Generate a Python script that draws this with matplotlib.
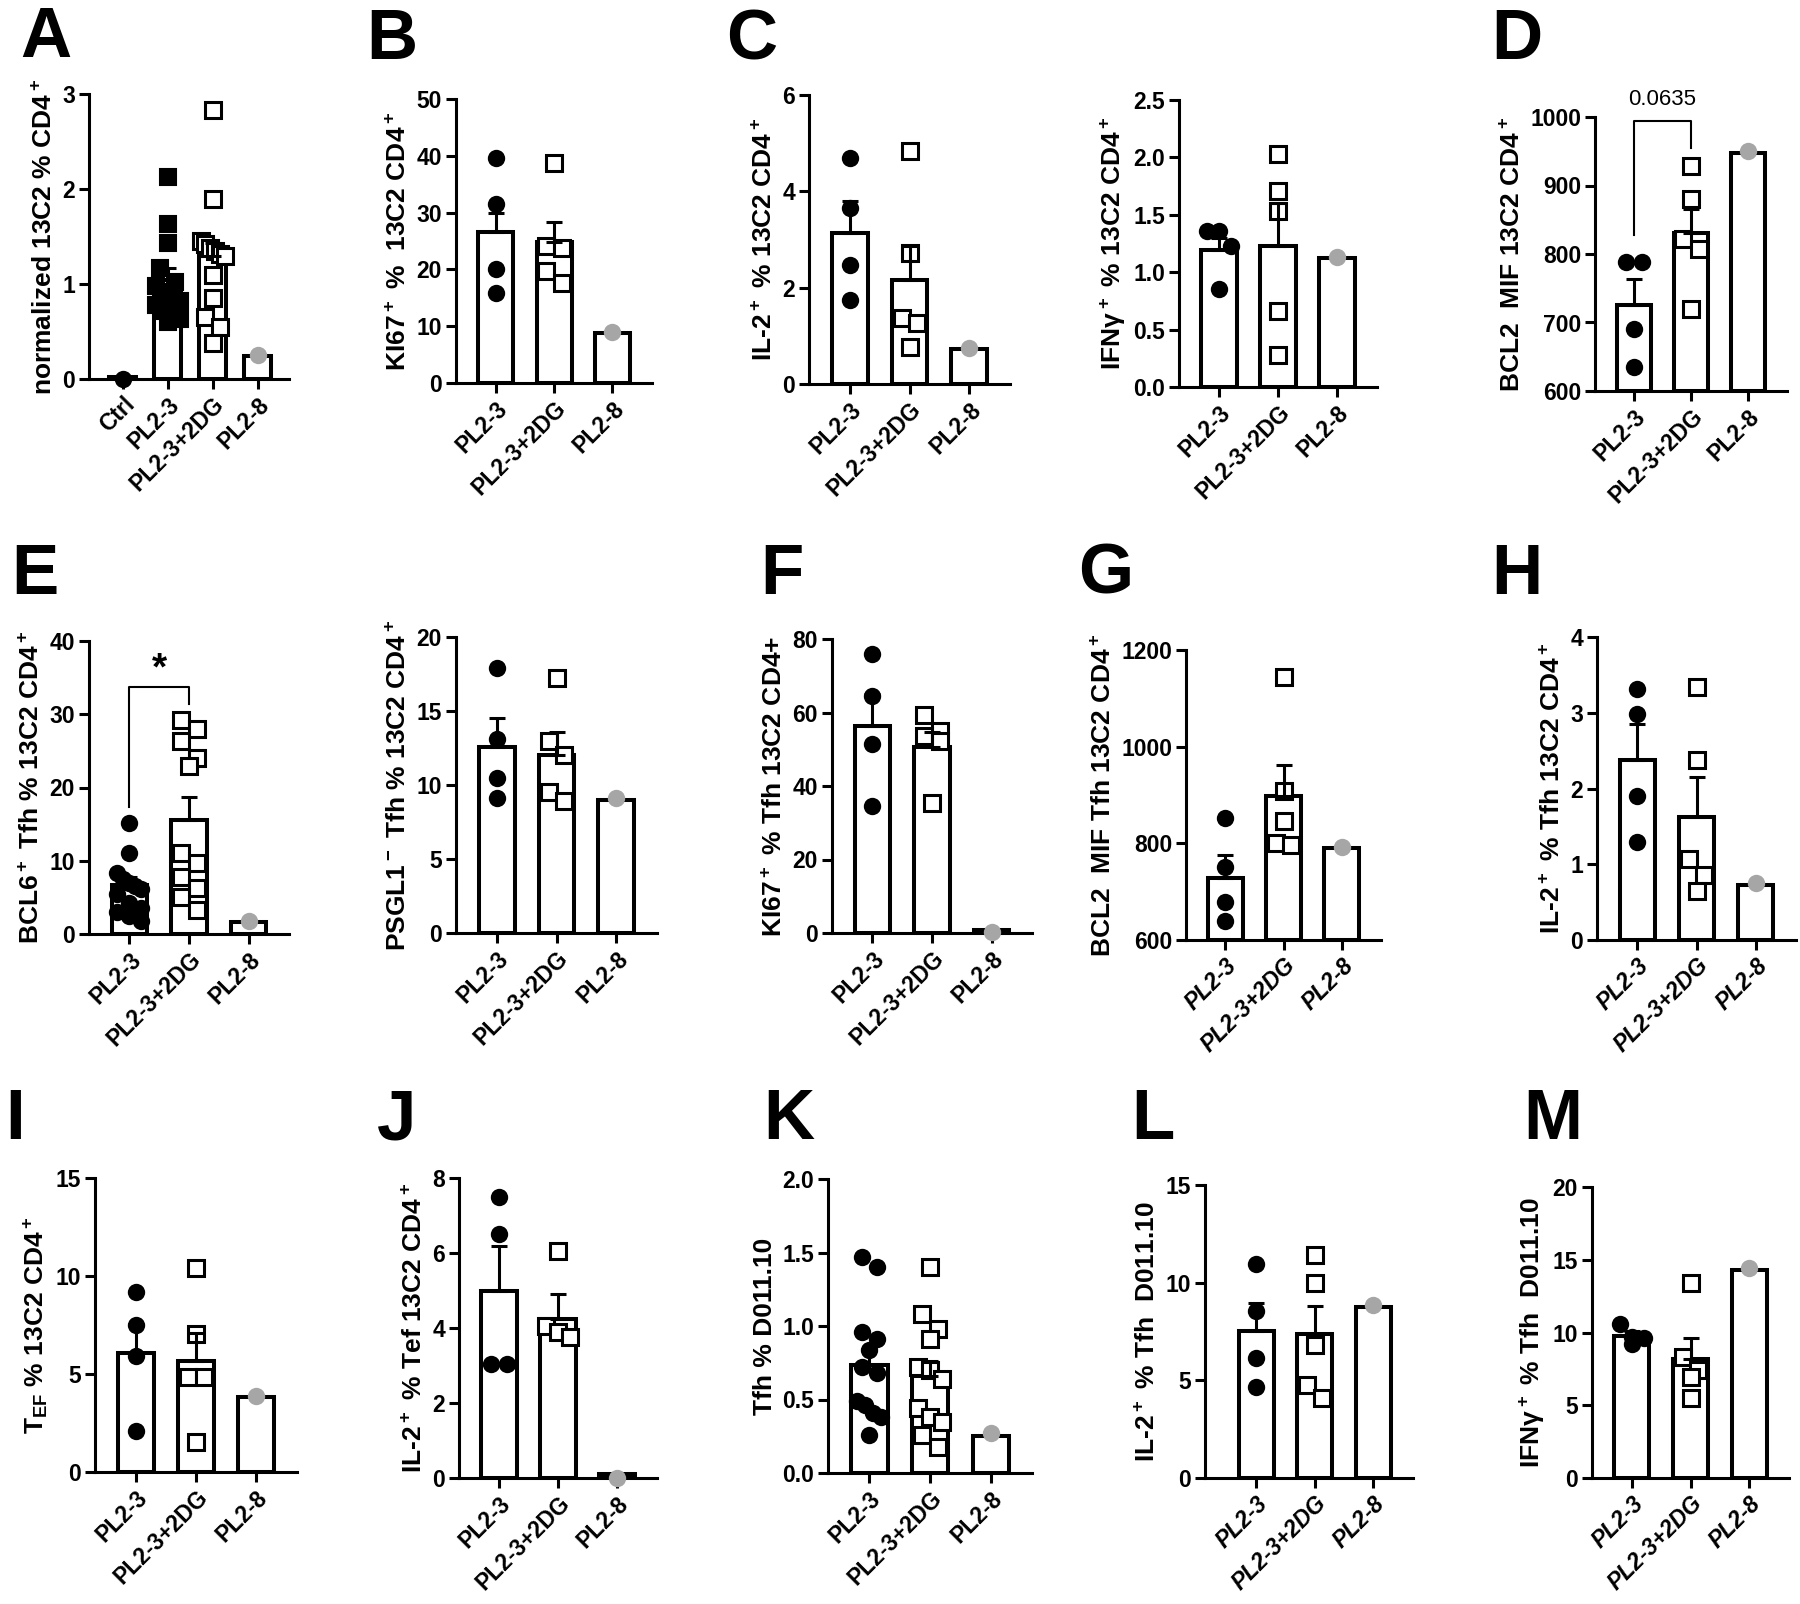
import matplotlib

matplotlib.use("Agg")

import matplotlib.pyplot as plt
import numpy as np

plt.rcParams["font.family"] = ["Liberation Sans", "DejaVu Sans"]
plt.rcParams["font.weight"] = "bold"
plt.rcParams["mathtext.default"] = "regular"

W, H = 1800, 1604

G3 = ["PL2-3", "PL2-3+2DG", "PL2-8"]
G4 = ["Ctrl", "PL2-3", "PL2-3+2DG", "PL2-8"]

# ---- data ----
A_ctrl = [0.0]
A_pl23 = [2.13, 1.63, 1.43, 1.17, 1.02, 0.98, 0.92, 0.88, 0.82, 0.78, 0.72, 0.68, 0.63, 0.60]
A_2dg = [2.83, 1.90, 1.45, 1.42, 1.38, 1.35, 1.32, 1.30, 1.10, 0.85, 0.65, 0.55, 0.38]
A_pl28 = [0.25]
A_mean = [0.02, 1.04, 1.30, 0.24]
A_sem = [0.0, 0.13, 0.13, 0.0]

B_pl23 = [39.7, 31.5, 20.0, 15.8]
B_2dg = [38.8, 24.2, 23.8, 19.8, 17.6]
B_pl28 = [9.0]
B_mean = [26.5, 24.8, 8.8]
B_sem = [3.4, 3.5, 0.0]

C1_pl23 = [4.70, 3.65, 2.48, 1.75]
C1_2dg = [4.83, 2.72, 1.38, 1.27, 0.76]
C1_pl28 = [0.75]
C1_mean = [3.13, 2.15, 0.72]
C1_sem = [0.67, 0.72, 0.0]

C2_pl23 = [1.36, 1.36, 1.23, 0.85]
C2_2dg = [2.03, 1.71, 1.53, 0.66, 0.28]
C2_pl28 = [1.13]
C2_mean = [1.19, 1.23, 1.12]
C2_sem = [0.11, 0.37, 0.0]

D_pl23 = [789, 789, 690, 635]
D_2dg = [929, 880, 822, 807, 719]
D_pl28 = [950]
D_mean = [726, 831, 948]
D_sem = [38, 35, 0]

E1_pl23 = [15.1, 11.0, 8.3, 7.5, 7.0, 6.5, 6.2, 5.5, 4.2, 3.5, 3.0, 2.5, 1.8]
E1_2dg = [29.2, 28.0, 26.3, 24.0, 22.9, 11.0, 9.7, 7.8, 6.3, 5.1, 3.3]
E1_pl28 = [1.8]
E1_mean = [6.7, 15.5, 1.6]
E1_sem = [1.1, 3.2, 0.0]

E2_pl23 = [17.9, 13.1, 10.5, 9.1]
E2_2dg = [17.2, 13.0, 12.0, 9.5, 8.9]
E2_pl28 = [9.1]
E2_mean = [12.6, 12.0, 9.0]
E2_sem = [1.95, 1.55, 0.0]

F_pl23 = [75.9, 64.4, 51.4, 34.5]
F_2dg = [59.3, 55.0, 53.6, 52.3, 35.5]
F_pl28 = [0.3]
F_mean = [56.2, 50.5, 0.8]
F_sem = [8.8, 4.3, 0.0]

G_pl23 = [853, 751, 679, 639]
G_2dg = [1145, 909, 846, 801, 797]
G_pl28 = [792]
G_mean = [728, 898, 790]
G_sem = [48, 65, 0]

H_pl23 = [3.32, 2.99, 1.90, 1.30]
H_2dg = [3.34, 2.37, 1.07, 0.86, 0.65]
H_pl28 = [0.75]
H_mean = [2.37, 1.62, 0.73]
H_sem = [0.48, 0.53, 0.0]

I_pl23 = [9.17, 7.52, 5.90, 2.07]
I_2dg = [10.4, 7.05, 4.85, 4.85, 1.51]
I_pl28 = [3.9]
I_mean = [6.07, 5.68, 3.83]
I_sem = [1.5, 1.4, 0.0]

J_pl23 = [7.5, 6.5, 3.03, 3.03]
J_2dg = [6.05, 4.05, 3.9, 3.75]
J_pl28 = [0.0]
J_mean = [5.0, 4.25, 0.1]
J_sem = [1.2, 0.65, 0.0]

K_pl23 = [1.47, 1.40, 0.96, 0.91, 0.84, 0.72, 0.68, 0.49, 0.46, 0.41, 0.38, 0.26]
K_2dg = [1.40, 1.08, 0.98, 0.91, 0.72, 0.70, 0.64, 0.44, 0.38, 0.35, 0.26, 0.18]
K_pl28 = [0.27]
K_mean = [0.735, 0.66, 0.25]
K_sem = [0.11, 0.10, 0.0]

L_pl23 = [10.97, 8.55, 6.15, 4.68]
L_2dg = [11.4, 10.0, 6.8, 4.77, 4.1]
L_pl28 = [8.85]
L_mean = [7.55, 7.38, 8.75]
L_sem = [1.42, 1.45, 0.0]

M_pl23 = [10.6, 9.7, 9.6, 9.2]
M_2dg = [13.4, 8.35, 7.45, 6.95, 5.5]
M_pl28 = [14.4]
M_mean = [9.77, 8.2, 14.3]
M_sem = [0.35, 1.45, 0.0]

STYLES = {
    "dot": dict(marker="o", ms=12.5, mfc="black", mec="black", mew=0),
    "sq": dict(marker="s", ms=11.5, mfc="black", mec="black", mew=1.5),
    "open": dict(marker="s", ms=11.5, mfc="white", mec="black", mew=2.2),
    "grey": dict(marker="o", ms=12.5, mfc="#a6a6a6", mec="#a6a6a6", mew=0),
}

TICK_FS = 16.5
LABEL_FS = 19

fig = plt.figure(figsize=(W / 100, H / 100), dpi=100)


def make_ax(box):
    l, t, r, b = box
    return fig.add_axes([l / W, 1 - b / H, (r - l) / W, (b - t) / H])


def spread(vals, base, ypx, xpx, d=17.0, max_half=12.0):
    """Graphpad-like row spreading of overlapping points (pixel based)."""
    order = sorted(range(len(vals)), key=lambda i: -vals[i])
    offs = [0.0] * len(vals)
    rows, cur = [], []
    for i in order:
        y = (vals[i] - base) * ypx
        if cur and (cur[0][1] - y) >= d:
            rows.append(cur)
            cur = []
        cur.append((i, y))
    if cur:
        rows.append(cur)
    for row in rows:
        n = len(row)
        if n == 1:
            continue
        step = min(d * 0.9, 2 * max_half / (n - 1))
        for j, (i, _) in enumerate(row):
            offs[i] = (j - (n - 1) / 2) * step / xpx
    return offs


def draw_panel(box, ylim, yticks, yticklabels, ylabel, labels, means, sems,
               groups, xlim=(-0.68, 2.68), italic=False):
    ax = make_ax(box)
    base = ylim[0]
    x = np.arange(len(labels))
    ax.bar(x, np.array(means) - base, bottom=base, width=0.6,
           facecolor="white", edgecolor="black", linewidth=2.9, zorder=2)
    l, t, r, b = box
    ypx = (b - t) / (ylim[1] - ylim[0])
    xpx = (r - l) / (xlim[1] - xlim[0])
    for i, (vals, kind) in enumerate(groups):
        offs = spread(vals, base, ypx, xpx)
        ax.plot(i + np.array(offs), vals, linestyle="none", zorder=3,
                clip_on=False, **STYLES[kind])
    for i in range(len(means)):
        if sems[i] > 0:
            ax.errorbar([i], [means[i]], yerr=[[0], [sems[i]]], fmt="none",
                        ecolor="black", elinewidth=2.2, capsize=6,
                        capthick=2.2, zorder=4)
    ax.set_xlim(*xlim)
    ax.set_ylim(*ylim)
    ax.set_yticks(yticks)
    ax.set_yticklabels(yticklabels)
    ax.set_xticks(x)
    ax.set_xticklabels(labels, rotation=45, ha="right", va="top",
                       rotation_mode="anchor")
    if italic:
        for lab in ax.get_xticklabels():
            lab.set_style("italic")
    for s in ("top", "right"):
        ax.spines[s].set_visible(False)
    for s in ("left", "bottom"):
        ax.spines[s].set_linewidth(2.2)
    ax.tick_params(axis="both", direction="out", length=7, width=2.2,
                   labelsize=TICK_FS, pad=3)
    ax.set_ylabel(ylabel, fontsize=LABEL_FS, fontweight="bold", labelpad=4)
    return ax


def fmt(ticks, f="{:g}"):
    return [f.format(v) for v in ticks]


# ---- row 1 ----
t = [0, 1, 2, 3]
draw_panel((89, 94, 289, 379), (0, 3), t, fmt(t), "normalized 13C2 % CD4$^+$",
           G4, A_mean, A_sem,
           [(A_ctrl, "dot"), (A_pl23, "sq"), (A_2dg, "open"), (A_pl28, "grey")],
           xlim=(-0.75, 3.7))

t = [0, 10, 20, 30, 40, 50]
draw_panel((456, 99, 652, 383), (0, 50), t, fmt(t), "KI67$^+$ %  13C2 CD4$^+$",
           G3, B_mean, B_sem, [(B_pl23, "dot"), (B_2dg, "open"), (B_pl28, "grey")])

t = [0, 2, 4, 6]
draw_panel((809, 95, 1010, 384), (0, 6), t, fmt(t), "IL-2$^+$ % 13C2 CD4$^+$",
           G3, C1_mean, C1_sem, [(C1_pl23, "dot"), (C1_2dg, "open"), (C1_pl28, "grey")])

t = [0, 0.5, 1.0, 1.5, 2.0, 2.5]
draw_panel((1179, 100, 1377, 387), (0, 2.5), t, fmt(t, "{:.1f}"),
           "IFNγ$^+$ % 13C2 CD4$^+$",
           G3, C2_mean, C2_sem, [(C2_pl23, "dot"), (C2_2dg, "open"), (C2_pl28, "grey")])

t = [600, 700, 800, 900, 1000]
axD = draw_panel((1595, 117, 1787, 391), (600, 1000), t, fmt(t),
                 "BCL2  MIF 13C2 CD4$^+$",
                 G3, D_mean, D_sem, [(D_pl23, "dot"), (D_2dg, "open"), (D_pl28, "grey")])
axD.plot([0, 0, 1, 1], [828, 994, 994, 955], color="black", lw=1.5, clip_on=False)
axD.text(0.5, 1010, "0.0635", ha="center", va="bottom", fontsize=16,
         fontweight="normal", clip_on=False)

# ---- row 2 ----
t = [0, 10, 20, 30, 40]
axE = draw_panel((89, 641, 289, 934), (0, 40), t, fmt(t), "BCL6$^+$ Tfh % 13C2 CD4$^+$",
                 G3, E1_mean, E1_sem, [(E1_pl23, "dot"), (E1_2dg, "open"), (E1_pl28, "grey")])
axE.plot([0, 0, 1, 1], [17.4, 33.7, 33.7, 31.4], color="black", lw=1.5)
axE.text(0.5, 33.6, "*", ha="center", va="bottom", fontsize=28, fontweight="bold")

t = [0, 5, 10, 15, 20]
draw_panel((456, 637, 657, 933), (0, 20), t, fmt(t), "PSGL1$^-$ Tfh % 13C2 CD4$^+$",
           G3, E2_mean, E2_sem, [(E2_pl23, "dot"), (E2_2dg, "open"), (E2_pl28, "grey")])

t = [0, 20, 40, 60, 80]
draw_panel((832, 639, 1032, 933), (0, 80), t, fmt(t), "KI67$^+$ % Tfh 13C2 CD4+",
           G3, F_mean, F_sem, [(F_pl23, "dot"), (F_2dg, "open"), (F_pl28, "grey")])

t = [600, 800, 1000, 1200]
draw_panel((1186, 650, 1381, 940), (600, 1200), t, fmt(t), "BCL2  MIF Tfh 13C2 CD4$^+$",
           G3, G_mean, G_sem, [(G_pl23, "dot"), (G_2dg, "open"), (G_pl28, "grey")],
           italic=True)

t = [0, 1, 2, 3, 4]
draw_panel((1597, 637, 1796, 940), (0, 4), t, fmt(t), "IL-2$^+$ % Tfh 13C2 CD4$^+$",
           G3, H_mean, H_sem, [(H_pl23, "dot"), (H_2dg, "open"), (H_pl28, "grey")],
           italic=True)

# ---- row 3 ----
t = [0, 5, 10, 15]
draw_panel((95, 1178, 297, 1472), (0, 15), t, fmt(t), "T$_{EF}$ % 13C2 CD4$^+$",
           G3, I_mean, I_sem, [(I_pl23, "dot"), (I_2dg, "open"), (I_pl28, "grey")])

t = [0, 2, 4, 6, 8]
draw_panel((459, 1178, 657, 1478), (0, 8), t, fmt(t), "IL-2$^+$ % Tef 13C2 CD4$^+$",
           G3, J_mean, J_sem, [(J_pl23, "dot"), (J_2dg, "open"), (J_pl28, "grey")])

t = [0, 0.5, 1.0, 1.5, 2.0]
draw_panel((828, 1179, 1032, 1473), (0, 2.0), t, fmt(t, "{:.1f}"), "Tfh % D011.10",
           G3, K_mean, K_sem, [(K_pl23, "dot"), (K_2dg, "open"), (K_pl28, "grey")])

t = [0, 5, 10, 15]
draw_panel((1205, 1185, 1413, 1478), (0, 15), t, fmt(t), "IL-2$^+$ % Tfh  D011.10",
           G3, L_mean, L_sem, [(L_pl23, "dot"), (L_2dg, "open"), (L_pl28, "grey")],
           xlim=(-0.88, 2.68), italic=True)

t = [0, 5, 10, 15, 20]
draw_panel((1592, 1187, 1789, 1478), (0, 20), t, fmt(t), "IFNγ$^+$ % Tfh  D011.10",
           G3, M_mean, M_sem, [(M_pl23, "dot"), (M_2dg, "open"), (M_pl28, "grey")],
           italic=True)

# ---- panel letters ----
letters = [("A", 20, 6), ("B", 366, 8), ("C", 726, 8), ("D", 1491, 8),
           ("E", 11, 543), ("F", 760, 543), ("G", 1078, 543), ("H", 1491, 543),
           ("I", 5, 1088), ("J", 377, 1088), ("K", 763, 1088), ("L", 1131, 1088),
           ("M", 1523, 1088)]
for txt, lx, ly in letters:
    fig.text(lx / W, 1 - ly / H, txt, ha="left", va="top", fontsize=51,
             fontweight="bold")

fig.savefig("out.png", dpi=100)
